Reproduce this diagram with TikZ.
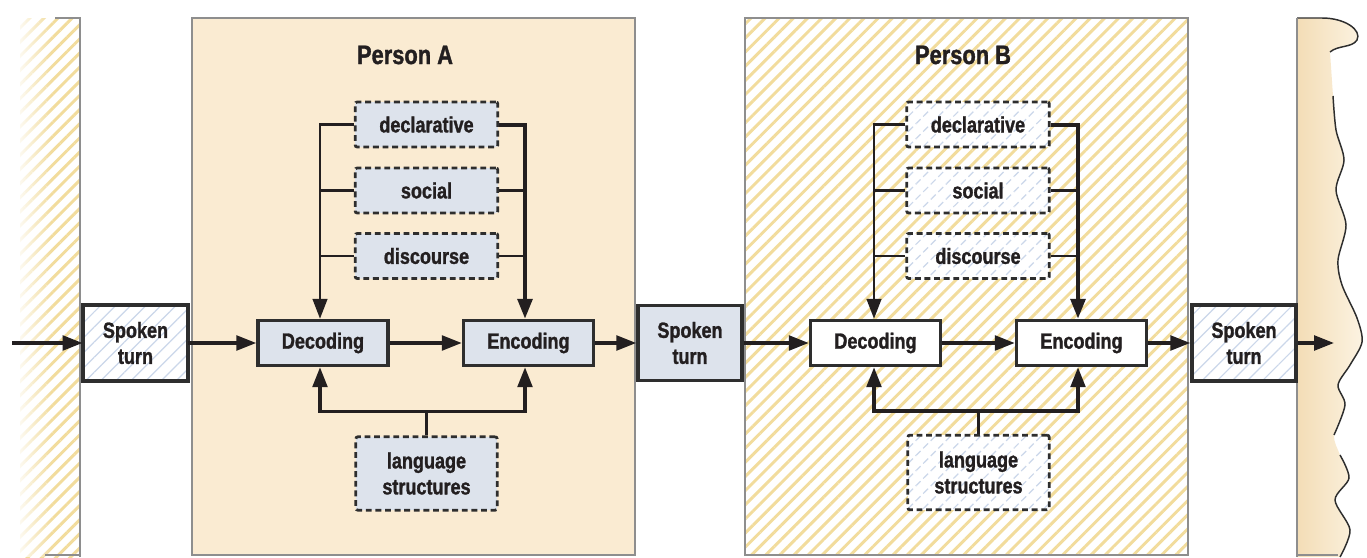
\documentclass[tikz,border=0pt]{standalone}
\usepackage{fontspec}
\setmainfont{Liberation Sans}[FakeStretch=0.82, BoldFeatures={FakeBold=1.3}]
\usetikzlibrary{arrows.meta,patterns.meta,fadings}
\definecolor{beige}{HTML}{FAEBD2}
\definecolor{beigeD}{HTML}{F3DDB6}
\definecolor{beigeL}{HTML}{FCF3E2}
\definecolor{boxfill}{HTML}{DDE3EC}
\definecolor{hatchY}{HTML}{F2DC9C}
\definecolor{hatchB}{HTML}{CBD7EA}
\definecolor{edge}{HTML}{8E8E8E}
\definecolor{ink}{HTML}{231F20}
\definecolor{boxline}{HTML}{2E2E2E}
\begin{document}
\begin{tikzpicture}[x=0.75pt,y=-0.75pt,
  txt/.style={text=ink, font=\fontsize{16.5}{19.5}\selectfont\bfseries, align=center, inner sep=0pt},
  solidbox/.style={txt, draw=boxline, line width=2.6pt, minimum width=97.5pt, minimum height=33.75pt},
  dashbox/.style={txt, draw=boxline, line width=2.1pt, dash pattern=on 4.4pt off 2.8pt, rounded corners=1.5pt, minimum width=107pt, minimum height=33.75pt},
  spokenbox/.style={solidbox, minimum width=78.5pt, minimum height=57pt},
  bhatch/.style={preaction={fill=white}, pattern={Lines[angle=45,distance=8pt,line width=0.9pt]}, pattern color=hatchB},
  yhatch/.style={pattern={Lines[angle=45,distance=7.5pt,line width=2.2pt]}, pattern color=hatchY},
  flow/.style={draw=ink, line width=2.6pt, -{Triangle[length=15pt,width=11pt]}},
  branch/.style={draw=ink, line width=2.2pt},
  trunk/.style={draw=ink, line width=2.8pt},
  wave/.style={draw=boxline, line width=1.1pt}
]
\useasboundingbox (0,0) rectangle (1367,557);
\fill[white] (0,0) rectangle (1367,557);

% left strip
\path[yhatch] (20,18) rectangle (80,557);
\fill[white, path fading=east] (14,10) rectangle (52,557);
\draw[edge, line width=1.2pt] (55,18) -- (80,18) -- (80,557);
\draw[edge, line width=1.2pt] (45,555) -- (80,555);

% right strip
\shade[left color=beigeD, right color=beigeL]
  (1297,18) -- (1322,18) .. controls (1345,18) and (1362,30) .. (1357,40)
  .. controls (1352,48) and (1338,45) .. (1330,52)
  -- plot[smooth] coordinates {(1333,96) (1336,130) (1344,160) (1336,190) (1346,225) (1338,260) (1342,285) (1357,318) (1362,342) (1350,365) (1338,385) (1345,405) (1334,435) (1340,455) (1349,478) (1335,500) (1350,530) (1340,557)}
  -- (1297,557) -- cycle;
\draw[wave] (1297,18) -- (1322,18) .. controls (1345,18) and (1362,30) .. (1357,40)
  .. controls (1352,48) and (1338,45) .. (1330,52);
\draw[wave] plot[smooth] coordinates {(1333,96) (1336,130) (1344,160) (1336,190) (1346,225) (1338,260) (1342,285) (1357,318) (1362,342) (1350,365) (1338,385) (1345,405) (1334,435)};
\draw[wave] plot[smooth] coordinates {(1340,455) (1349,478) (1335,500) (1350,530) (1340,557)};
\draw[edge, line width=1.2pt] (1297,18) -- (1297,557);
\draw[edge, line width=1.2pt] (1297,555) -- (1338,555);

% person panels
\fill[beige] (192,18) rectangle (635,555);
\draw[edge, line width=1.2pt] (192,18) rectangle (635,555);
\fill[white] (745,18) rectangle (1188,555);
\path[yhatch] (745,18) rectangle (1188,555);
\draw[edge, line width=1.2pt] (745,18) rectangle (1188,555);

\node[txt, font=\fontsize{20}{24}\selectfont\bfseries] (tA) at (405,55) {Person A};
\node[txt, font=\fontsize{20}{24}\selectfont\bfseries] (tB) at (963,55) {Person B};

% nodes
\node[spokenbox, bhatch] (spL) at (135.5,343) {Spoken\\turn};
\node[solidbox, fill=boxfill] (decA) at (323,343) {Decoding};
\node[solidbox, fill=boxfill] (encA) at (528.5,343) {Encoding};
\node[spokenbox, fill=boxfill, minimum width=78pt, minimum height=56pt] (spM) at (690,343) {Spoken\\turn};
\node[solidbox, fill=white] (decB) at (875.5,343) {Decoding};
\node[solidbox, fill=white] (encB) at (1081.5,343) {Encoding};
\node[spokenbox, bhatch, minimum width=78pt] (spR) at (1244,343) {Spoken\\turn};

\node[dashbox, fill=boxfill] (dclA) at (426.5,124.5) {declarative};
\node[dashbox, fill=boxfill] (socA) at (426.5,190.5) {social};
\node[dashbox, fill=boxfill] (disA) at (426.5,256) {discourse};
\node[dashbox, fill=boxfill, minimum width=106pt, minimum height=55pt] (lanA) at (426.5,473.5) {language\\structures};

\node[dashbox, bhatch] (dclB) at (978,124.5) {declarative};
\node[dashbox, bhatch] (socB) at (978,190.5) {social};
\node[dashbox, bhatch] (disB) at (978,256) {discourse};
\node[dashbox, bhatch, minimum width=106pt, minimum height=56pt] (lanB) at (978.5,472.5) {language\\structures};

\coordinate (inL) at (12,343);
\coordinate (outR) at (1334,343);
\coordinate (LA) at (320,0);
\coordinate (RA) at (525,0);
\coordinate (LB) at (874,0);
\coordinate (RB) at (1078,0);

% main flow
\draw[flow] (inL) -- (spL.west);
\draw[flow] (spL.east) -- (decA.west);
\draw[flow] (decA.east) -- (encA.west);
\draw[flow] (encA.east) -- (spM.west);
\draw[flow] (spM.east) -- (decB.west);
\draw[flow] (decB.east) -- (encB.west);
\draw[flow] (encB.east) -- (spR.west);
\draw[flow] (spR.east) -- (outR);

% knowledge brackets, person A
\draw[branch] (socA.west) -- (socA.west -| LA);
\draw[branch] (disA.west) -- (disA.west -| LA);
\draw[branch] (socA.east) -- (socA.east -| RA);
\draw[branch] (disA.east) -- (disA.east -| RA);
\draw[flow, line width=1.9pt] (dclA.west) -- (dclA.west -| LA) -- (decA.north -| LA);
\draw[flow, line width=3pt] (dclA.east) -- (dclA.east -| RA) -- (encA.north -| RA);

% knowledge brackets, person B
\draw[branch] (socB.west) -- (socB.west -| LB);
\draw[branch] (disB.west) -- (disB.west -| LB);
\draw[branch] (socB.east) -- (socB.east -| RB);
\draw[branch] (disB.east) -- (disB.east -| RB);
\draw[flow, line width=1.9pt] (dclB.west) -- (dclB.west -| LB) -- (decB.north -| LB);
\draw[flow, line width=3pt] (dclB.east) -- (dclB.east -| RB) -- (encB.north -| RB);

% language structures, person A
\draw[trunk] (lanA.north) -- ++(0,-24);
\draw[flow] (lanA.north) ++(0,-24) -| (decA.south -| LA);
\draw[flow] (lanA.north) ++(0,-24) -| (encA.south -| RA);

% language structures, person B
\draw[trunk] (lanB.north) -- ++(0,-23);
\draw[flow] (lanB.north) ++(0,-23) -| (decB.south -| LB);
\draw[flow] (lanB.north) ++(0,-23) -| (encB.south -| RB);
\end{tikzpicture}
\end{document}
